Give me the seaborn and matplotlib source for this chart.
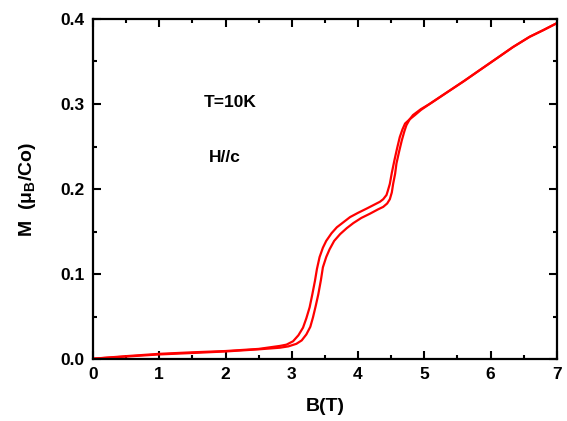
import pandas as pd
import matplotlib.pyplot as plt
import seaborn as sns
from matplotlib.ticker import MultipleLocator

# field sweep up (B increasing)
up_B = [0, 0.5, 1.0, 1.5, 2.0, 2.5, 2.82, 2.95, 3.07, 3.15, 3.22, 3.28, 3.32, 3.36, 3.40, 3.44, 3.47,
        3.52, 3.57, 3.64, 3.73, 3.83, 3.93, 4.05, 4.18, 4.30, 4.38, 4.44, 4.48, 4.51, 4.53, 4.56,
        4.58, 4.62, 4.66, 4.70, 4.73, 4.78, 4.83, 4.95, 5.08, 5.33, 5.60, 5.84, 6.10, 6.34, 6.59,
        6.80, 7.0]
up_M = [0.0005, 0.003, 0.0055, 0.0072, 0.009, 0.0115, 0.0134, 0.0150, 0.018, 0.022, 0.029, 0.038,
        0.049, 0.062, 0.076, 0.093, 0.108, 0.120, 0.129, 0.139, 0.147, 0.154, 0.160, 0.166, 0.171,
        0.176, 0.179, 0.183, 0.188, 0.196, 0.206, 0.218, 0.230, 0.244, 0.257, 0.268, 0.275,
        0.282, 0.287, 0.294, 0.300, 0.313, 0.327, 0.340, 0.354, 0.367, 0.379, 0.387, 0.395]

# field sweep down (B decreasing)
down_B = [7.0, 6.80, 6.59, 6.34, 6.10, 5.84, 5.60, 5.33, 5.08, 4.95, 4.86, 4.78, 4.71, 4.67, 4.63,
          4.59, 4.55, 4.51, 4.48, 4.45, 4.43, 4.38, 4.33, 4.23, 4.13, 4.00, 3.88, 3.78, 3.68, 3.60,
          3.52, 3.47, 3.42, 3.38, 3.35, 3.31, 3.27, 3.22, 3.17, 3.10, 3.02, 2.92, 2.82, 2.5, 2.0,
          1.5, 1.0, 0.5, 0]
down_M = [0.395, 0.387, 0.379, 0.367, 0.354, 0.340, 0.327, 0.313, 0.300, 0.293, 0.287, 0.282,
          0.277, 0.270, 0.261, 0.248, 0.234, 0.219, 0.206, 0.198, 0.193, 0.188, 0.185, 0.181,
          0.177, 0.172, 0.167, 0.161, 0.155, 0.148, 0.139, 0.131, 0.120, 0.106, 0.092, 0.076,
          0.061, 0.048, 0.037, 0.028, 0.021, 0.017, 0.0155, 0.012, 0.0095, 0.008, 0.0062,
          0.0035, 0.0005]

df = pd.concat([
    pd.DataFrame({"B": up_B, "M": up_M, "sweep": "up"}),
    pd.DataFrame({"B": down_B, "M": down_M, "sweep": "down"}),
])

sns.set_style("ticks")
plt.rcParams['font.family'] = ['Liberation Sans', 'DejaVu Sans']
plt.rcParams['mathtext.default'] = 'regular'
plt.rcParams['text.color'] = 'black'
plt.rcParams['axes.labelcolor'] = 'black'

fig = plt.figure(figsize=(5.67, 4.21), dpi=100)
ax = fig.add_axes([0.164, 0.147, 0.818, 0.808])

sns.lineplot(data=df, x="B", y="M", hue="sweep", palette={"up": "red", "down": "red"},
             sort=False, estimator=None, legend=False, linewidth=1.6, ax=ax)

ax.set_xlim(0, 7)
ax.set_ylim(0, 0.4)
ax.xaxis.set_major_locator(MultipleLocator(1))
ax.xaxis.set_minor_locator(MultipleLocator(0.5))
ax.yaxis.set_major_locator(MultipleLocator(0.1))
ax.yaxis.set_minor_locator(MultipleLocator(0.05))
ax.tick_params(which='both', direction='in', top=True, right=True, width=1.5,
               colors='black', labelcolor='black')
ax.tick_params(which='major', length=6, labelsize=12.5, pad=6)
ax.tick_params(which='minor', length=3)
for s in ax.spines.values():
    s.set_linewidth(1.6)
    s.set_color('black')
for lab in ax.get_xticklabels() + ax.get_yticklabels():
    lab.set_fontweight('bold')

ax.set_xlabel("B(T)", fontsize=14, fontweight='bold', labelpad=11, color='black')
ax.set_ylabel(r"M  ($\mu_{B}$/Co)", fontsize=14, fontweight='bold', labelpad=16, color='black')

ax.text(2.07, 0.302, "T=10K", fontsize=12.5, fontweight='bold', ha='center', va='center', color='black')
ax.text(1.99, 0.237, "H//c", fontsize=12.5, fontweight='bold', ha='center', va='center', color='black')

fig.savefig("out.png", dpi=100)
